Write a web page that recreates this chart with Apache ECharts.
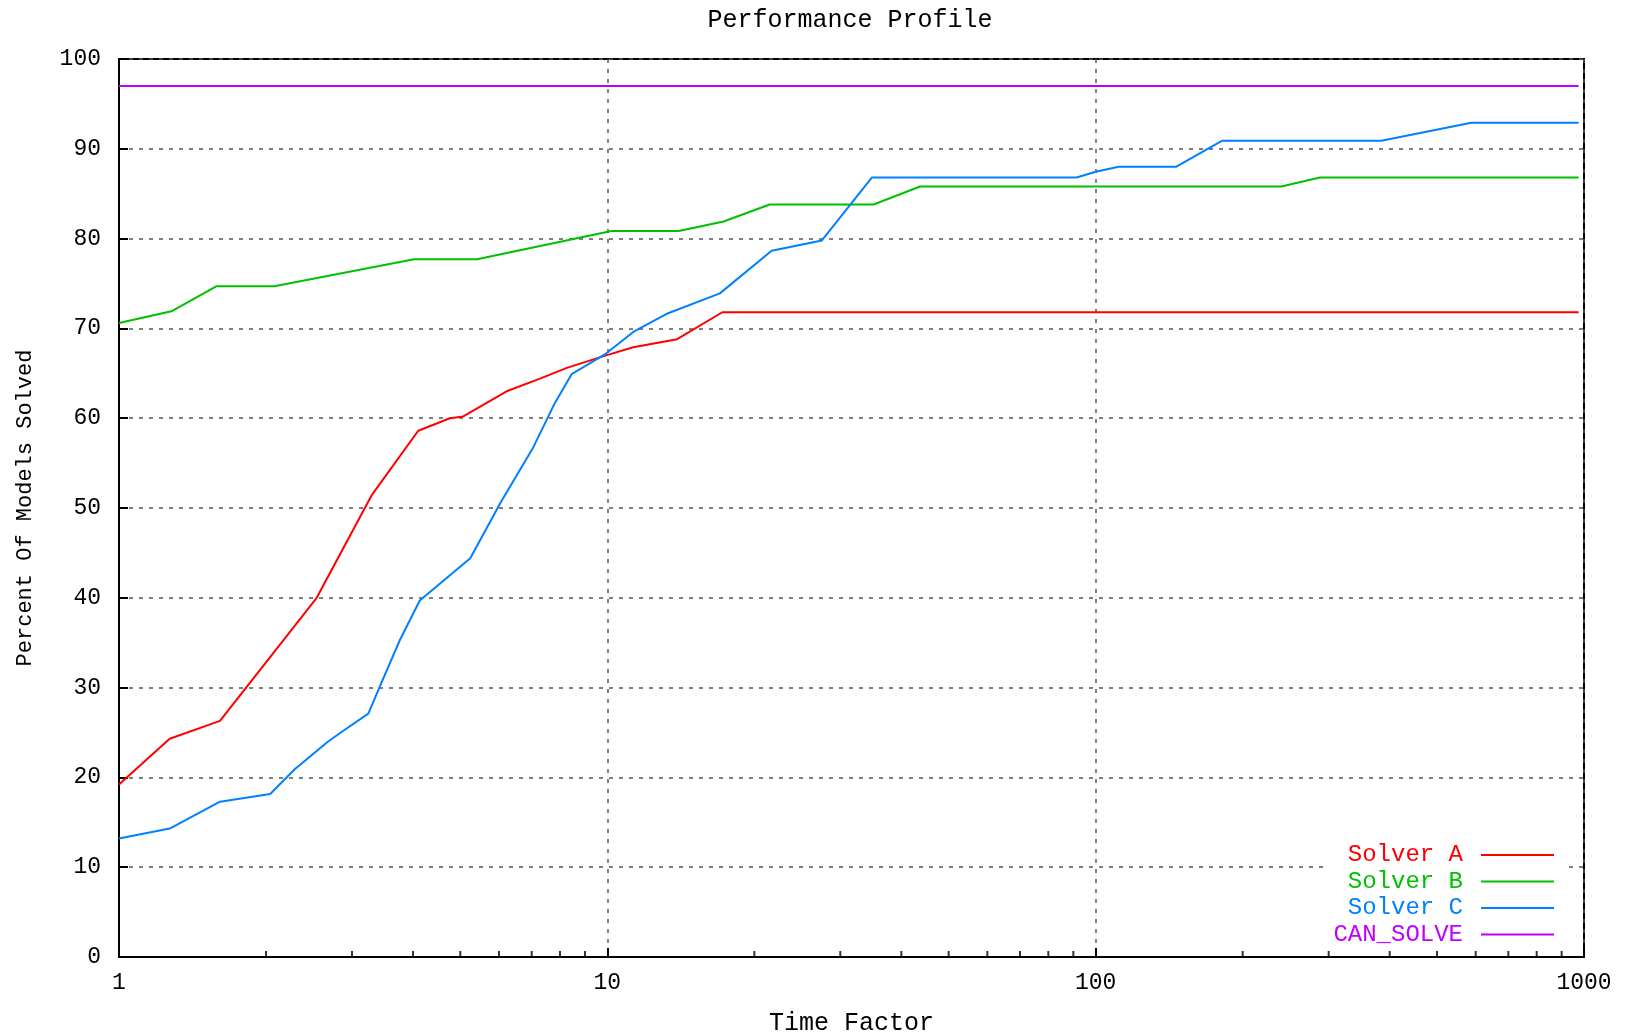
<!DOCTYPE html>
<html>
<head>
<meta charset="utf-8">
<script src="https://cdn.jsdelivr.net/npm/echarts@6/dist/echarts.min.js"></script>
<style>
html,body{margin:0;padding:0;background:#fff;}
#chart{width:1627px;height:1034px;}
</style>
</head>
<body>
<div id="chart"></div>
<script>
// ---- data ----
const solverAx = [1, 1.27, 1.61, 2.54, 3.29, 4.10, 4.76, 5.07, 6.22, 7.28, 8.26, 9.94, 11.3, 13.9, 17.2, 975];
const solverAy = [19.2, 24.3, 26.3, 40.0, 51.4, 58.6, 60.0, 60.2, 63.0, 64.4, 65.6, 67.0, 67.9, 68.8, 71.8, 71.8];

const solverBx = [1, 1.28, 1.585, 2.08, 4.02, 5.41, 10.2, 14.0, 17.3, 21.5, 35.1, 43.7, 240, 288, 975];
const solverBy = [70.6, 71.9, 74.7, 74.7, 77.7, 77.7, 80.85, 80.85, 81.9, 83.8, 83.8, 85.8, 85.8, 86.8, 86.8];

const solverCx = [1, 1.27, 1.61, 2.04, 2.29, 2.68, 2.88, 3.24, 3.42, 3.76, 4.13, 5.24, 6.03, 7.06, 7.81, 8.45, 9.94, 11.3, 13.2, 17.0, 21.7, 27.5, 34.8, 91.4, 100, 111.5, 146, 181.7, 384.6, 588, 975];
const solverCy = [13.2, 14.3, 17.3, 18.15, 20.9, 24.0, 25.2, 27.1, 30.1, 35.3, 39.7, 44.4, 50.5, 56.8, 61.7, 64.9, 67.2, 69.6, 71.6, 73.9, 78.65, 79.8, 86.8, 86.8, 87.45, 88.0, 88.0, 90.9, 90.9, 92.9, 92.9];

const canSolveX = [1, 975];
const canSolveY = [97, 97];

const seriesNames = ['Solver A', 'Solver B', 'Solver C', 'CAN_SOLVE'];
const seriesColors = ['#ff0000', '#00c000', '#0080ff', '#c000ff'];

const xTickValues = [1, 10, 100, 1000];
const xTickLabels = ['1', '10', '100', '1000'];
const xMinorTicks = [2,3,4,5,6,7,8,9,20,30,40,50,60,70,80,90,200,300,400,500,600,700,800,900];
const yTickLabels = ['0','10','20','30','40','50','60','70','80','90','100'];

const titleText = 'Performance Profile';
const xAxisName = 'Time Factor';
const yAxisName = 'Percent Of Models Solved';

// ---- build ----
const FONT = 'Liberation Mono';
function pairs(xs, ys){ return xs.map((x,i)=>[x, ys[i]]); }
const allX = [solverAx, solverBx, solverCx, canSolveX];
const allY = [solverAy, solverBy, solverCy, canSolveY];

const lineSeries = seriesNames.map((n,i)=>({
  name: n,
  type: 'line',
  data: pairs(allX[i], allY[i]),
  showSymbol: false,
  symbol: 'none',
  lineStyle: {color: seriesColors[i], width: 2},
  itemStyle: {color: seriesColors[i]},
  animation: false,
  z: 3
}));

const minorTickSeries = {
  name: 'minorTicks',
  type: 'scatter',
  data: xMinorTicks.map(v=>[v, 0]),
  symbol: 'rect',
  symbolSize: [2, 6],
  symbolOffset: [0, -3],
  itemStyle: {color: '#000'},
  silent: true,
  clip: false,
  animation: false,
  z: 4
};

const chart = echarts.init(document.getElementById('chart'), null, {renderer: 'canvas'});
chart.setOption({
  backgroundColor: '#fff',
  animation: false,
  textStyle: {fontFamily: FONT},
  title: {
    text: titleText,
    left: 845,
    textAlign: 'center',
    top: 3,
    textStyle: {fontFamily: FONT, fontSize: 25, fontWeight: 'normal', color: '#000'}
  },
  grid: {
    left: 119, right: 43, top: 59, bottom: 77,
    containLabel: false,
    outerBoundsMode: 'none',
    show: true, borderColor: '#000', borderWidth: 2, backgroundColor: 'transparent'
  },
  legend: {
    orient: 'vertical',
    right: 62,
    top: 839,
    align: 'right',
    icon: 'rect',
    itemWidth: 73,
    itemHeight: 2,
    itemGap: 2.5,
    padding: [4, 11, 4, 5],
    backgroundColor: '#fff',
    selectedMode: false,
    textStyle: {fontFamily: FONT, fontSize: 24, lineHeight: 24, padding: [0, 13, 0, 0]},
    data: seriesNames.map((n,i)=>({name: n, textStyle: {color: seriesColors[i]}})),
    z: 5
  },
  xAxis: {
    type: 'log',
    logBase: 10,
    min: 1,
    max: 1000,
    name: xAxisName,
    nameLocation: 'middle',
    nameGap: 54,
    nameTextStyle: {fontFamily: FONT, fontSize: 25, color: '#000'},
    axisLine: {show: true, lineStyle: {color: '#000', width: 2}},
    axisTick: {show: true, inside: true, length: 9, lineStyle: {color: '#000', width: 2}},
    minorTick: {show: false},
    axisLabel: {
      show: true, margin: 14, color: '#000', fontFamily: FONT, fontSize: 23,
      formatter: function(v){ const i = xTickValues.indexOf(Math.round(v)); return i >= 0 ? xTickLabels[i] : ''; }
    },
    splitLine: {show: true, lineStyle: {color: '#555', width: 1.5, type: [4, 6]}}
  },
  yAxis: {
    type: 'value',
    min: 0,
    max: 100,
    interval: 10,
    name: yAxisName,
    nameLocation: 'middle',
    nameGap: 83,
    nameRotate: 90,
    nameTextStyle: {fontFamily: FONT, fontSize: 22, color: '#000'},
    axisLine: {show: true, lineStyle: {color: '#000', width: 2}},
    axisTick: {show: true, inside: true, length: 9, lineStyle: {color: '#000', width: 2}},
    axisLabel: {
      show: true, margin: 18, color: '#000', fontFamily: FONT, fontSize: 23,
      formatter: function(v){ return yTickLabels[Math.round(v/10)]; }
    },
    splitLine: {show: true, lineStyle: {color: '#555', width: 1.5, type: [4, 6]}}
  },
  series: lineSeries.concat([minorTickSeries])
});
</script>
</body>
</html>
